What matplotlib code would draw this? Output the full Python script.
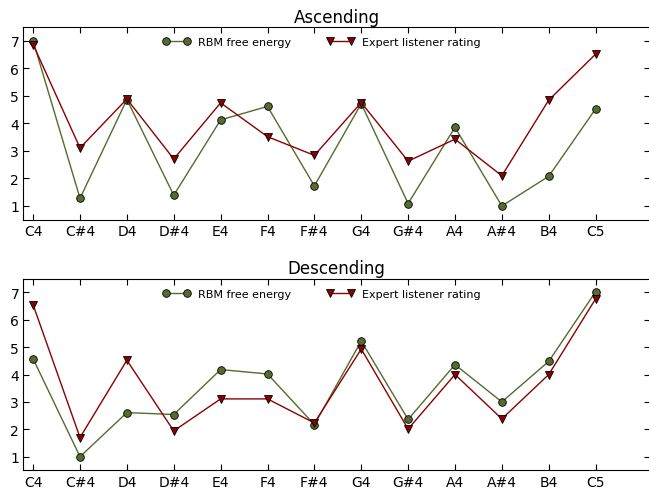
import matplotlib
matplotlib.use("Agg")
import matplotlib.pyplot as plt

notes = ["C4", "C#4", "D4", "D#4", "E4", "F4", "F#4", "G4", "G#4", "A4", "A#4", "B4", "C5"]

# ascending scale
asc_rbm = [7.0, 1.28, 4.87, 1.39, 4.13, 4.62, 1.73, 4.72, 1.09, 3.86, 1.0, 2.08, 4.53]
asc_expert = [6.87, 3.11, 4.89, 2.71, 4.75, 3.52, 2.84, 4.76, 2.63, 3.43, 2.1, 4.85, 6.52]

# descending scale
desc_rbm = [4.57, 1.0, 2.61, 2.54, 4.18, 4.02, 2.17, 5.22, 2.36, 4.36, 3.0, 4.48, 7.02]
desc_expert = [6.54, 1.70, 4.52, 1.94, 3.11, 3.11, 2.23, 4.93, 2.01, 4.0, 2.38, 4.0, 6.76]

green = "#556b2f"
red = "#8b0000"

fig = plt.figure(figsize=(6.49, 4.89), dpi=100)
ax1 = fig.add_axes([0.0359, 0.5486, 0.9656, 0.3937])
ax2 = fig.add_axes([0.0359, 0.036, 0.9656, 0.3922])

def draw(ax, rbm, expert, title):
    x = range(len(notes))
    ax.plot(x, rbm, "-o", color=green, mfc=green, mec="black", mew=0.6,
            ms=5.5, lw=1, label="RBM free energy")
    ax.plot(x, expert, "-v", color=red, mfc=red, mec="black", mew=0.6,
            ms=5.5, lw=1, label="Expert listener rating")
    ax.set_xlim(-0.21, 13.16)
    ax.set_ylim(0.5, 7.5)
    ax.set_xticks(list(x))
    ax.set_xticklabels(notes)
    ax.set_yticks(range(1, 8))
    ax.tick_params(direction="in", top=True, right=True, length=4,
                   labelsize=10, pad=3)
    ax.set_title(title, fontsize=12, pad=4)
    ax.legend(loc="upper center", bbox_to_anchor=(0.476, 1.0), ncol=2,
              numpoints=2, frameon=False, fontsize=8, handlelength=2.5,
              handletextpad=0.7, columnspacing=3.2)

draw(ax1, asc_rbm, asc_expert, "Ascending")
draw(ax2, desc_rbm, desc_expert, "Descending")

plt.savefig("out.png", dpi=100)
